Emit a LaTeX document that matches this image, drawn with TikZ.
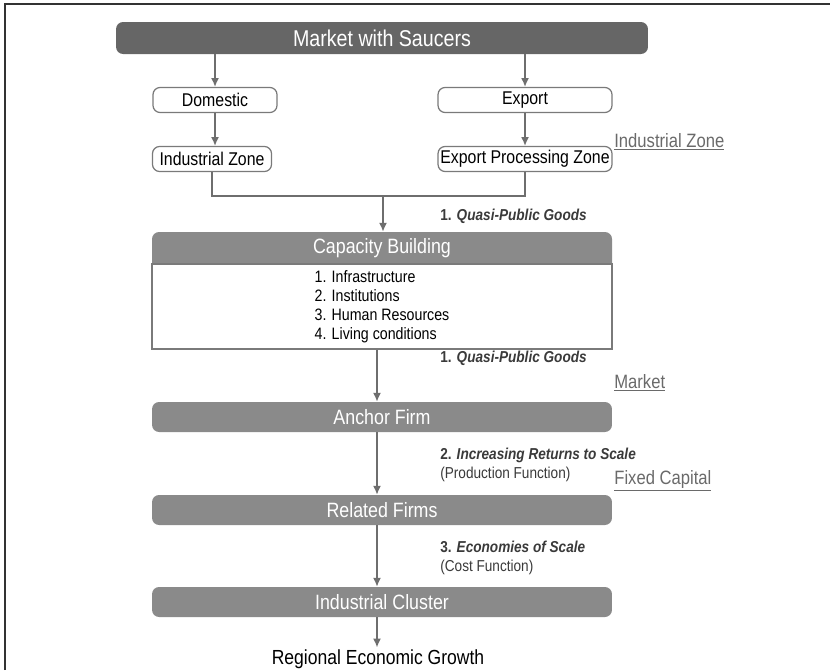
\documentclass[tikz,border=0pt]{standalone}
\usepackage{fontspec}
\setmainfont{Liberation Sans}[FakeStretch=0.86]
\usetikzlibrary{arrows.meta}
\definecolor{colDark}{HTML}{666666}
\definecolor{colBox}{HTML}{8A8A8A}
\definecolor{colLine}{HTML}{6E6E6E}
\definecolor{colEdge}{HTML}{7A7A7A}
\definecolor{colNote}{HTML}{6A6A6A}
\definecolor{colLbl}{HTML}{3A3A3A}
\def\ttlfont{\fontsize{13pt}{15pt}\selectfont}
\def\boxfont{\fontsize{10.5pt}{12pt}\selectfont}
\def\barfont{\fontsize{11.8pt}{14pt}\selectfont}
\def\lstfont{\fontsize{9.4pt}{10.8pt}\selectfont}
\def\lblfont{\fontsize{9pt}{10.5pt}\selectfont}
\def\notefont{\fontsize{11pt}{13pt}\selectfont}
\def\grwfont{\fontsize{11.6pt}{13.5pt}\selectfont}
\tikzset{
  topbar/.style={fill=colDark, rounded corners=4pt, text=white, font=\ttlfont,
    minimum width=10.64cm, minimum height=0.64cm, inner sep=0pt},
  wbox/.style={draw=colEdge, line width=0.7pt, fill=white, rounded corners=4pt,
    font=\boxfont, minimum height=0.5cm, inner sep=0pt},
  gbar/.style={fill=colBox, rounded corners=4pt, text=white, font=\barfont,
    minimum width=9.2cm, minimum height=0.6cm, inner sep=0pt},
  arr/.style={draw=colLine, line width=0.8pt, -{Latex[length=5pt,width=4.5pt]}},
  lbl/.style={anchor=west, font=\lblfont\bfseries, text=colLbl, inner sep=0pt},
  sublbl/.style={anchor=west, font=\lblfont, text=colLbl, inner sep=0pt},
  note/.style={anchor=base west, font=\notefont, text=colNote, inner sep=0pt}
}
\begin{document}
\begin{tikzpicture}[x=0.02cm, y=-0.02cm]
\useasboundingbox (0,0) rectangle (830,670);

% frame
\draw[line width=1.1pt, black!80] (5,670) -- (5,4) -- (830,4);

% ===================== TOP: market and zones =====================
\node[topbar] (mkt) at (382,38) {Market with Saucers};

\node[wbox, minimum width=2.48cm] (dom) at (215,100) {Domestic};
\node[wbox, minimum width=3.48cm] (exp) at (525,100) {Export};
\node[wbox, minimum width=2.38cm] (iz) at (212,159) {Industrial Zone};
\node[wbox, minimum width=3.48cm] (epz) at (525,159) {Export Processing Zone};

\draw[arr] (mkt.south -| dom) -- (dom.north);
\draw[arr] (mkt.south -| exp) -- (exp.north);
\draw[arr] (dom.south) -- (dom.south |- iz.north);
\draw[arr] (exp.south) -- (exp.south |- epz.north);

\node[note] (nzone) at (614,147) {\underline{Industrial Zone}};

\coordinate (join) at (383,196);
\draw[draw=colLine, line width=0.8pt] (iz.south) |- (join) -| (epz.south);

% ===================== MIDDLE: capacity building =====================
\fill[colBox] (152,264) [rounded corners=4pt] -- (152,232) -- (612,232)
  [sharp corners] -- (612,264) -- cycle;
\node[text=white, font=\barfont, minimum width=9.2cm, minimum height=0.64cm,
  inner sep=0pt] (cap) at (382,248) {Capacity Building};
\node[draw=colEdge, line width=0.7pt, minimum width=9.2cm, minimum height=1.7cm,
  font=\lstfont, align=left, inner sep=0pt] (capbody) at (382,306.5)
  {1. Infrastructure\\2. Institutions\\3. Human Resources\\4. Living conditions};

\draw[arr] (join) -- (join |- cap.north);
\node[lbl] (qpga) at (440,216) {1. \itshape Quasi-Public Goods};

% ===================== BOTTOM: firms and cluster =====================
\coordinate (spine) at (377,0);

\node[gbar] (anc) at (382,417) {Anchor Firm};
\node[gbar] (rel) at (382,510) {Related Firms};
\node[gbar] (clu) at (382,602) {Industrial Cluster};
\node[font=\grwfont, inner sep=1pt] (grow) at (378,659) {Regional Economic Growth};

\draw[arr] (capbody.south -| spine) -- (anc.north -| spine);
\draw[arr] (anc.south -| spine) -- (rel.north -| spine);
\draw[arr] (rel.south -| spine) -- (clu.north -| spine);
\draw[arr] (clu.south -| spine) -- (grow.north -| spine);

\node[lbl] (qpgb) at (440,358) {1. \itshape Quasi-Public Goods};
\node[lbl] (irs) at (440,455) {2. \itshape Increasing Returns to Scale};
\node[sublbl] (prf) at (440,474) {(Production Function)};
\node[lbl] (eos) at (440,547) {3. \itshape Economies of Scale};
\node[sublbl] (cof) at (440,567) {(Cost Function)};

\node[note] (nmkt) at (614,388) {\underline{Market}};
\node[note] (nfix) at (614,484) {\underline{Fixed Capital}};

\end{tikzpicture}
\end{document}
